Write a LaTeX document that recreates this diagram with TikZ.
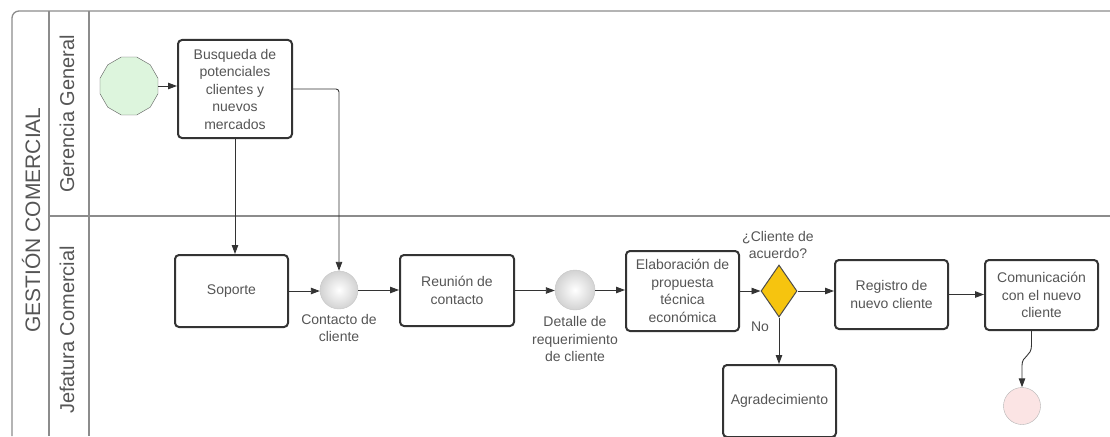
\documentclass[tikz,border=0pt]{standalone}
\usepackage{fontspec}
\setmainfont{Liberation Sans}
\usetikzlibrary{shapes.geometric,arrows.meta}

\definecolor{poolline}{HTML}{8C8C8C}
\definecolor{boxline}{HTML}{333333}
\definecolor{txt}{HTML}{555555}
\definecolor{startfill}{HTML}{DDF5DD}
\definecolor{endfill}{HTML}{FBE4E4}
\definecolor{gatefill}{HTML}{F6C40F}

\tikzset{
  pool/.style={draw=poolline, line width=1.3pt},
  lanetext/.style={text=txt, rotate=90, font=\fontsize{20}{24}\selectfont},
  task/.style={draw=boxline, line width=2pt, rounded corners=4pt, fill=white,
    text=txt, align=center, font=\fontsize{14}{17.5}\selectfont, inner sep=2pt},
  midevent/.style={circle, draw=gray!45, inner sep=0pt, minimum size=38pt,
    inner color=white, outer color=gray!35},
  evlabel/.style={text=txt, align=center, font=\fontsize{14}{17.5}\selectfont, inner sep=0pt},
  flow/.style={draw=boxline, line width=0.9pt,
    -{Triangle[length=9pt,width=6.5pt]}},
}

\begin{document}
\begin{tikzpicture}[x=1pt,y=-1pt]
\useasboundingbox (0,0) rectangle (1110,436);

% pool and lanes
\draw[pool, rounded corners=7pt] (1110,11) -- (12,11) -- (12,436);
\draw[pool] (49,11) -- (49,436);
\draw[pool] (89,11) -- (89,436);
\draw[pool] (49,216) -- (1110,216);

\node[lanetext, font=\fontsize{21}{25}\selectfont] (pooltitle) at (31,220) {GESTIÓN COMERCIAL};
\node[lanetext] (lanegg) at (67,114) {Gerencia General};
\node[lanetext] (lanejc) at (67,330) {Jefatura Comercial};

% events
\node[regular polygon, regular polygon sides=12, draw=gray!70!black, fill=startfill,
      minimum size=60pt, inner sep=0pt] (start) at (129,86) {};
\node[midevent] (contacto) at (339,290) {};
\node[midevent, minimum size=40pt] (detalle) at (575,290) {};
\node[circle, draw=gray!60, fill=endfill, minimum size=37pt, inner sep=0pt] (fin) at (1022,406) {};

% tasks
\node[task, minimum width=114pt, minimum height=98pt] (busq) at (235,89)
  {Busqueda de\\potenciales\\clientes y\\nuevos\\mercados};
\node[task, minimum width=113pt, minimum height=72pt] (sop) at (231.5,291) {Soporte};
\node[task, minimum width=114pt, minimum height=71pt] (reu) at (457,290.5) {Reunión de\\contacto};
\node[task, minimum width=113pt, minimum height=80pt] (elab) at (682.5,291)
  {Elaboración de\\propuesta\\técnica\\económica};
\node[diamond, draw=gray!60!black, line width=1pt, fill=gatefill, inner sep=0pt,
      minimum width=36pt, minimum height=52pt] (gw) at (779,291) {};
\node[task, minimum width=113pt, minimum height=72pt] (agr) at (779.5,401) {Agradecimiento};
\node[task, minimum width=113pt, minimum height=69pt] (reg) at (891.5,294.5) {Registro de\\nuevo cliente};
\node[task, minimum width=113pt, minimum height=70pt] (com) at (1041.5,295)
  {Comunicación\\con el nuevo\\cliente};

% labels
\node[evlabel] (lcontacto) at (339,328) {Contacto de\\cliente};
\node[evlabel] (ldetalle) at (575,339) {Detalle de\\requerimiento\\de cliente};
\node[evlabel] (lgw) at (778,245) {¿Cliente de\\acuerdo?};
\node[evlabel] (lno) at (760,327) {No};

% sequence flows
\draw[flow] (start.east) -- (start.east -| busq.west);
\draw[flow] (busq.south) -- (busq.south |- sop.north);
\draw[flow, rounded corners=3pt] (busq.east) -| (contacto.north);
\draw[flow] (sop.east) -- (sop.east -| contacto.west);
\draw[flow] (contacto.east) -- (contacto.east -| reu.west);
\draw[flow] (reu.east) -- (reu.east -| detalle.west);
\draw[flow] (detalle.east) -- (detalle.east -| elab.west);
\draw[flow] (elab.east) -- (elab.east -| gw.west);
\draw[flow] (gw.east) -- (gw.east -| reg.west);
\draw[flow] (gw.south) -- (agr.north -| gw.south);
\draw[flow] (reg.east) -- (reg.east -| com.west);
\draw[flow] ([xshift=-10pt]com.south) -- ++(0,14)
  .. controls +(0,12) and +(0,-10) .. ([yshift=22pt]fin.north) -- (fin.north);

\end{tikzpicture}
\end{document}
